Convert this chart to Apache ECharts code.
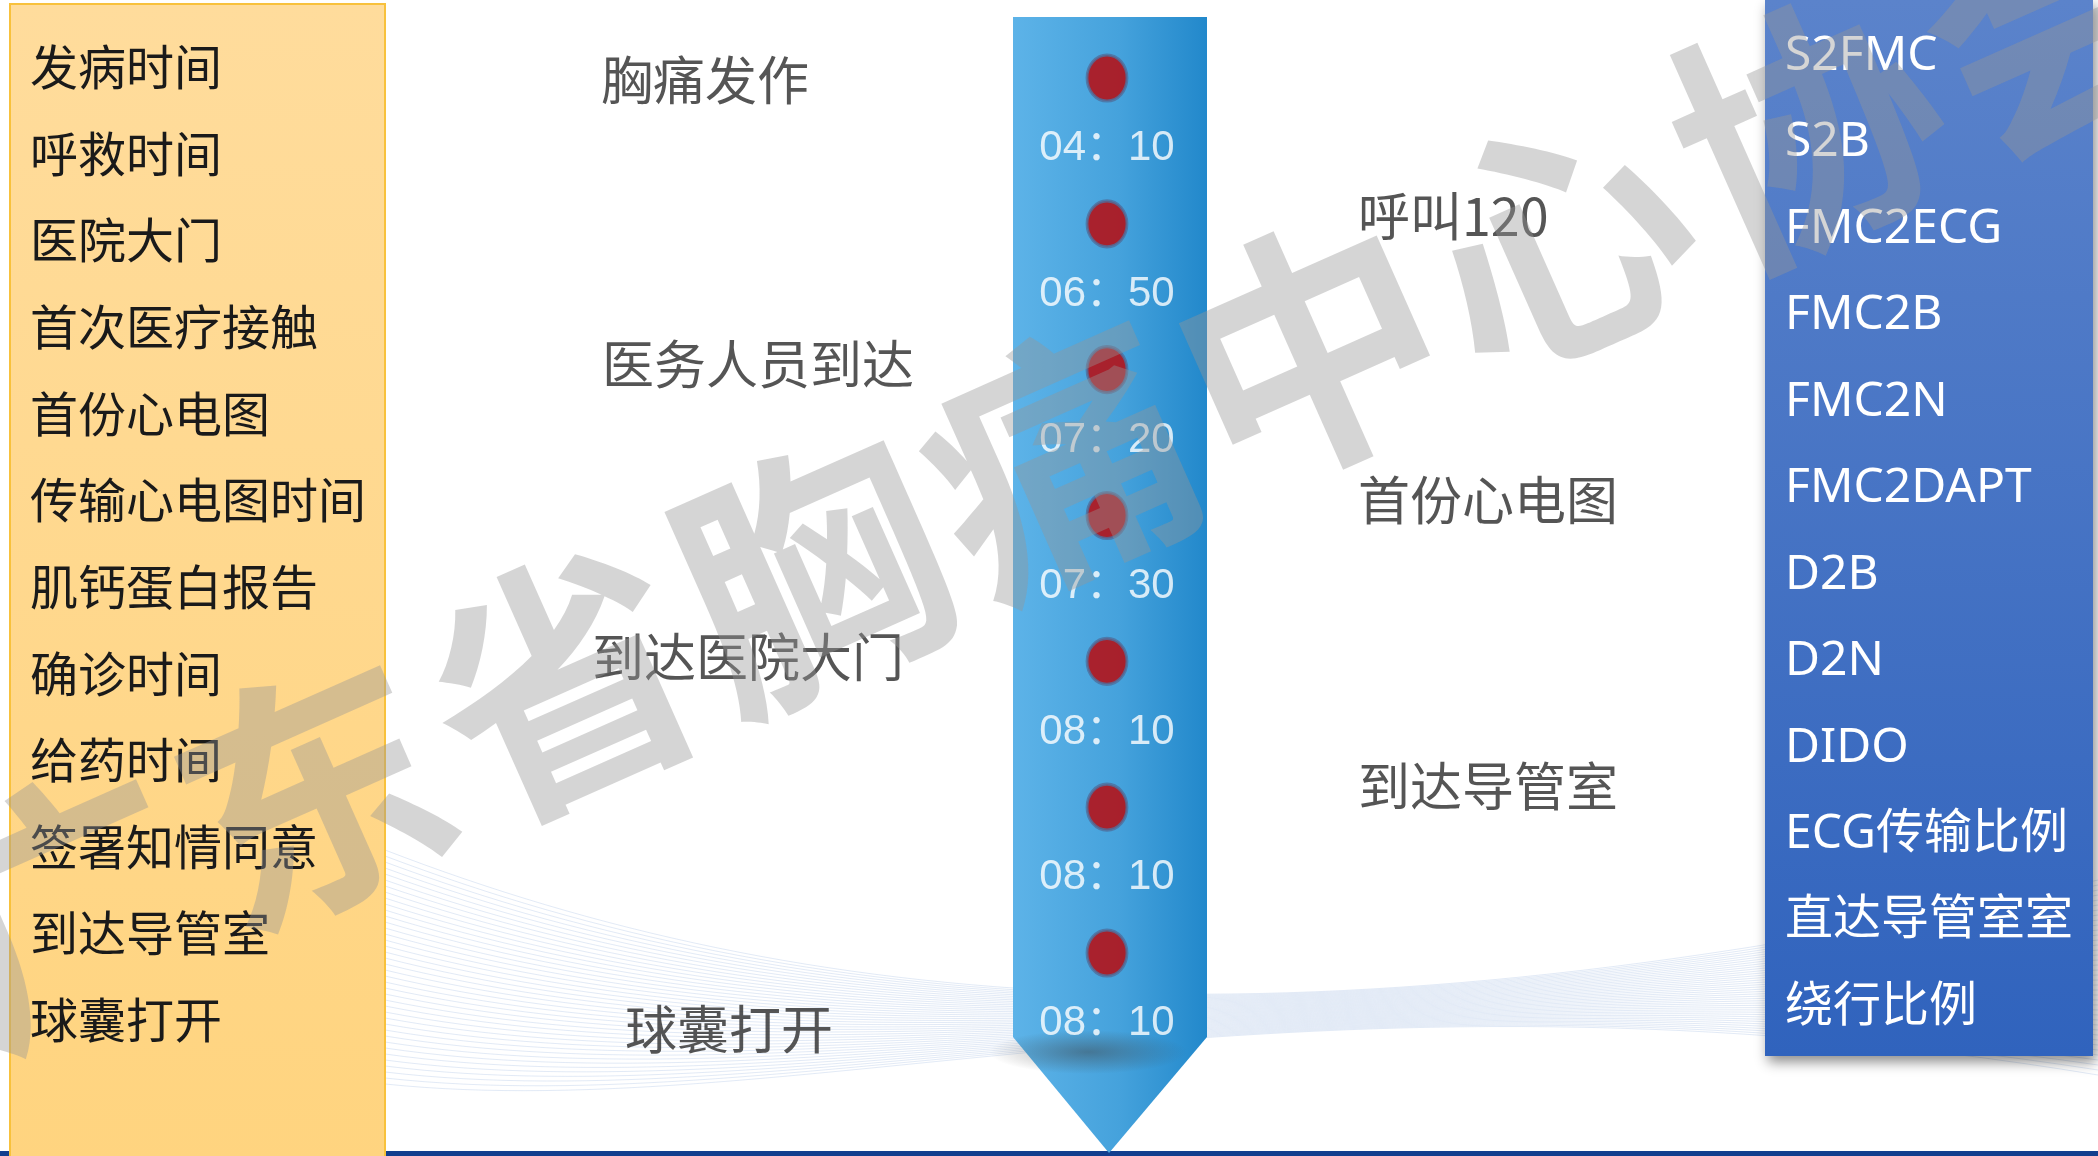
<!DOCTYPE html>
<html><head><meta charset="utf-8">
<script src="https://cdn.jsdelivr.net/npm/echarts@6/dist/echarts.min.js"></script>
<style>html,body{margin:0;padding:0;background:#fff;}#c{width:2098px;height:1156px;}</style>
</head><body><div id="c"></div>
<script>
// ---- data ----
const leftItems = ['发病时间','呼救时间','医院大门','首次医疗接触','首份心电图','传输心电图时间','肌钙蛋白报告','确诊时间','给药时间','签署知情同意','到达导管室','球囊打开'];
const rightItems = ['S2FMC','S2B','FMC2ECG','FMC2B','FMC2N','FMC2DAPT','D2B','D2N','DIDO','ECG传输比例','直达导管室室','绕行比例'];
const times = ['04：10','06：50','07：20','07：30','08：10','08：10','08：10'];
const events = ['胸痛发作','呼叫120','医务人员到达','首份心电图','到达医院大门','到达导管室','球囊打开'];
const watermark = '广东省胸痛中心协会';

// ---- layout ----
const FONT = '"Noto Sans CJK SC", "Noto Sans", sans-serif';
const LATIN_FONT = '"Noto Sans", "Noto Sans CJK SC", sans-serif';
const TIME_FONT = '"Liberation Sans", "Noto Sans CJK SC", sans-serif';
const eventOffsets = [[-506,2],[251,-8],[-505,-5],[251,-15],[-515,-4],[251,-21],[-482,76]];

const chart = echarts.init(document.getElementById('c'), null, {renderer:'canvas'});
const G = echarts.graphic;

// decorative background mesh lines
const waveLines = [];
for (let i = 0; i < 40; i++) {
  waveLines.push({type:'bezierCurve',
    shape:{x1:385,y1:850+i*6,cpx1:800,cpy1:1010+i*3,cpx2:1300,cpy2:1060-i*3,x2:2098,y2:880+i*5},
    style:{stroke:'rgba(110,150,210,0.2)',lineWidth:1,fill:null}});
}

// watermark characters laid along a rotated baseline
const wmChars = Array.from(watermark).map((ch, i) => ({
  type:'text', z:50, x:1060 + (i-4)*249, y:461 + (i-4)*(-110.7), rotation:0.418,
  style:{text:ch, fontSize:262, fontWeight:'bold', fontFamily:FONT, fill:'rgba(150,150,150,0.4)', align:'center', verticalAlign:'middle'}
}));

const catAxis = (gi, items, color, family) => ({
  gridIndex:gi, type:'category', data:items, inverse:true, z:5,
  axisLine:{show:false}, axisTick:{show:false}, splitLine:{show:false},
  axisLabel:{inside:true, margin:0, fontSize:48, color:color, fontFamily:family}
});

const option = {
  animation:false,
  backgroundColor:'#ffffff',
  grid:[
    {left:1007,width:200,top:78,height:875},
    {left:30,width:340,top:23.7,height:1039.5},
    {left:1785,width:300,top:13,height:1037.5}
  ],
  xAxis:[
    {gridIndex:0,type:'value',min:0,max:1,show:false},
    {gridIndex:1,type:'value',min:0,max:1,show:false},
    {gridIndex:2,type:'value',min:0,max:1,show:false}
  ],
  yAxis:[
    {gridIndex:0,type:'value',min:0,max:times.length-1,inverse:true,show:false},
    catAxis(1, leftItems, '#1a1a1a', FONT),
    catAxis(2, rightItems, '#ffffff', LATIN_FONT)
  ],
  series:[
    {type:'scatter', xAxisIndex:0, yAxisIndex:0, z:5, symbol:'circle', symbolSize:[40,46],
     data: times.map((t,i)=>({value:[0.5,i], name:t})),
     itemStyle:{color:'#c00000', borderColor:'#4d6f9e', borderWidth:3},
     label:{show:true, position:'bottom', distance:25, formatter:p=>p.name, fontSize:42, color:'#ffffff', fontFamily:TIME_FONT}},
    {type:'scatter', xAxisIndex:0, yAxisIndex:0, z:5, symbolSize:0,
     data: events.map((e,i)=>({value:[0.5,i], name:e, label:{offset:eventOffsets[i]}})),
     label:{show:true, position:'inside', align:'left', verticalAlign:'middle', formatter:p=>p.name, fontSize:52, color:'#2a2a2a', fontFamily:FONT}}
  ],
  graphic:[
    {type:'rect', z:1, shape:{x:0,y:1151,width:2098,height:5}, style:{fill:'#123e8e'}},
    {type:'group', z:1, children:waveLines},
    {type:'rect', z:2, shape:{x:10,y:4,width:375,height:1160},
     style:{fill:new G.LinearGradient(0,0,0,1,[{offset:0,color:'#ffdc9c'},{offset:1,color:'#ffd47f'}]), stroke:'#f8c13c', lineWidth:2}},
    {type:'polygon', z:2, shape:{points:[[1013,17],[1207,17],[1207,1037],[1109,1153],[1013,1037]]},
     style:{fill:new G.LinearGradient(0,0,1,0,[{offset:0,color:'#5db3e8'},{offset:0.55,color:'#45a2dc'},{offset:1,color:'#2288cb'}])}},
    {type:'circle', z:3, x:1088, y:1052, scaleX:4.5, scaleY:1, shape:{cx:0,cy:0,r:22},
     style:{fill:new G.RadialGradient(0.5,0.5,0.5,[{offset:0,color:'rgba(60,60,60,0.45)'},{offset:1,color:'rgba(60,60,60,0)'}])}},
    {type:'rect', z:2, shape:{x:1765,y:0,width:328,height:1056},
     style:{fill:new G.LinearGradient(0,0,0,1,[{offset:0,color:'#5b83cb'},{offset:1,color:'#3063bd'}]),
            shadowBlur:12, shadowColor:'rgba(0,0,0,0.45)', shadowOffsetX:3, shadowOffsetY:6}},
    {type:'group', z:50, children:wmChars}
  ]
};
chart.setOption(option);
</script></body></html>
